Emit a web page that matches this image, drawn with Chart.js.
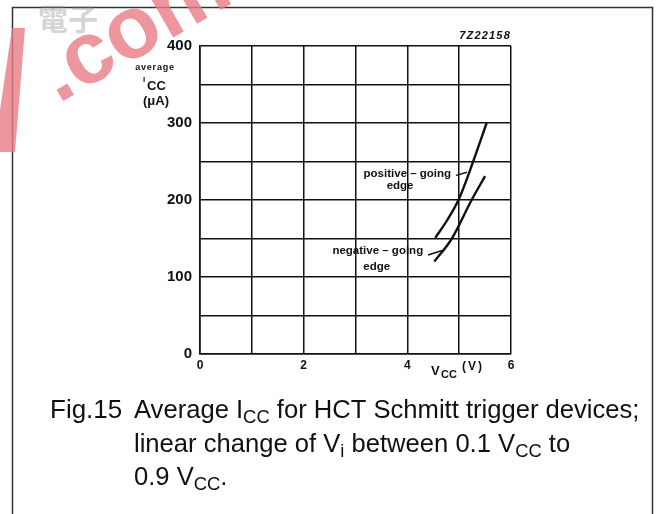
<!DOCTYPE html>
<html>
<head>
<meta charset="utf-8">
<script src="https://cdn.jsdelivr.net/npm/chart.js@4"></script>
<style>
  html, body { margin: 0; padding: 0; background: #fff; }
  canvas { display: block; }
</style>
</head>
<body>
<canvas id="chart" width="660" height="514"></canvas>
<script>
// average I_CC (uA) against V_CC (V)
const posVcc = [4.54, 4.78, 5.0, 5.27, 5.53];
const posIcc = [151, 175, 202, 250, 300];
const negVcc = [4.52, 4.86, 5.24, 5.50];
const negIcc = [120, 150, 200, 231];
const xTickLabels = [0, 2, 4, 6];
const yTickLabels = [0, 100, 200, 300, 400];

const INK = '#111';
const FONT = "'Liberation Sans', Arial, sans-serif";

function toPoints(xs, ys) {
    return xs.map((x, i) => ({ x: x, y: ys[i] }));
}

function spacing(ctx, px) {
    if ('letterSpacing' in ctx) ctx.letterSpacing = px + 'px';
}

// draws a run of text pieces, some of them as subscripts
function drawRich(ctx, parts, x, y, size) {
    let cx = x;
    parts.forEach(p => {
        const s = p.sub ? size * 0.72 : size;
        ctx.font = `${s}px ${FONT}`;
        ctx.fillText(p.t, cx, p.sub ? y + size * 0.2 : y);
        cx += ctx.measureText(p.t).width;
    });
}

const decor = {
    id: 'decor',
    beforeDraw(chart) {
        const ctx = chart.ctx;
        ctx.save();
        ctx.fillStyle = '#fff';
        ctx.fillRect(0, 0, chart.width, chart.height);
        ctx.restore();
    },
    afterDraw(chart) {
        const ctx = chart.ctx;
        const xs = chart.scales.x, ys = chart.scales.y;
        const px = v => xs.getPixelForValue(v);
        const py = v => ys.getPixelForValue(v);
        const area = chart.chartArea;

        ctx.save();

        // outer figure frame
        ctx.lineWidth = 1.5;
        ctx.strokeStyle = '#333';
        ctx.strokeRect(12.5, 7.5, 640, 530);

        ctx.fillStyle = INK;
        ctx.strokeStyle = INK;

        // figure code
        ctx.font = `italic bold 11px ${FONT}`;
        ctx.textAlign = 'right';
        ctx.textBaseline = 'alphabetic';
        spacing(ctx, 1.2);
        ctx.fillText('7Z22158', area.right, 39);
        spacing(ctx, 0);

        // y axis title
        ctx.textAlign = 'center';
        ctx.textBaseline = 'middle';
        ctx.font = `bold 9px ${FONT}`;
        spacing(ctx, 0.8);
        ctx.fillText('average', 155, 68);
        spacing(ctx, 0);
        ctx.textAlign = 'left';
        ctx.font = `bold 8px ${FONT}`;
        ctx.fillText('I', 143, 80);
        ctx.font = `bold 13px ${FONT}`;
        ctx.fillText('CC', 147, 86);
        ctx.textAlign = 'center';
        ctx.font = `bold 13px ${FONT}`;
        ctx.fillText('(\u03bcA)', 156, 101);

        // x axis title
        ctx.textAlign = 'left';
        ctx.font = `bold 13px ${FONT}`;
        ctx.fillText('V', 431, 371);
        ctx.font = `bold 11px ${FONT}`;
        ctx.fillText('CC', 441, 375);
        ctx.font = `bold 12px ${FONT}`;
        spacing(ctx, 2);
        ctx.fillText('(V)', 462, 367);
        spacing(ctx, 0);

        // curve labels with leaders
        ctx.textAlign = 'center';
        ctx.font = `bold 11.5px ${FONT}`;
        ctx.fillText('positive \u2013 going', px(4.0), py(234));
        ctx.fillText('edge', px(3.86), py(218));
        ctx.fillText('negative \u2013 going', px(3.43), py(134));
        ctx.fillText('edge', px(3.41), py(113));
        ctx.lineWidth = 1.5;
        ctx.beginPath();
        ctx.moveTo(px(4.94), py(232));
        ctx.lineTo(px(5.15), py(236));
        ctx.moveTo(px(4.40), py(128.5));
        ctx.lineTo(px(4.67), py(134.5));
        ctx.stroke();

        // caption
        ctx.textAlign = 'left';
        ctx.textBaseline = 'alphabetic';
        ctx.font = `26px ${FONT}`;
        ctx.fillText('Fig.15', 50, 418);
        drawRich(ctx, [{ t: 'Average I' }, { t: 'CC', sub: true }, { t: ' for HCT Schmitt trigger devices;' }], 134, 418, 25.6);
        drawRich(ctx, [{ t: 'linear change of V' }, { t: 'i', sub: true }, { t: ' between 0.1 V' }, { t: 'CC', sub: true }, { t: ' to' }], 134, 452, 25.6);
        drawRich(ctx, [{ t: '0.9 V' }, { t: 'CC', sub: true }, { t: '.' }], 134, 485, 25.6);

        // scanned watermark
        ctx.globalAlpha = 0.8;
        ctx.fillStyle = '#ea7c86';
        ctx.translate(58, 104);
        ctx.rotate(-Math.PI / 6);
        ctx.font = `bold 88px ${FONT}`;
        ctx.fillText('.com', 0, 0);
        ctx.setTransform(1, 0, 0, 1, 0, 0);
        ctx.beginPath();
        ctx.moveTo(12, 28);
        ctx.lineTo(25, 28);
        ctx.lineTo(15, 152);
        ctx.lineTo(0, 152);
        ctx.lineTo(0, 110);
        ctx.closePath();
        ctx.fill();
        ctx.globalAlpha = 0.35;
        ctx.fillStyle = '#888';
        ctx.font = `bold 30px 'Noto Sans CJK TC', sans-serif`;
        ctx.fillText('\u96fb\u5b50', 38, 30);
        ctx.restore();
    }
};

const curveStyle = {
    borderColor: INK,
    borderWidth: 2.4,
    pointRadius: 0,
    fill: false,
    cubicInterpolationMode: 'monotone'
};

new Chart(document.getElementById('chart'), {
    type: 'line',
    data: {
        datasets: [
            Object.assign({ label: 'positive-going edge', data: toPoints(posVcc, posIcc) }, curveStyle),
            Object.assign({ label: 'negative-going edge', data: toPoints(negVcc, negIcc) }, curveStyle)
        ]
    },
    options: {
        responsive: false,
        animation: false,
        layout: { padding: { top: 46, right: 149, left: 0, bottom: 0 } },
        plugins: {
            legend: { display: false },
            tooltip: { enabled: false }
        },
        scales: {
            x: {
                type: 'linear',
                min: 0,
                max: 6,
                afterFit: s => { s.height = 160; },
                grid: { color: INK, lineWidth: 1.5, drawTicks: false },
                border: { color: INK, width: 1.6 },
                ticks: {
                    stepSize: 1,
                    padding: 4,
                    maxRotation: 0,
                    color: INK,
                    font: { family: FONT, weight: 'bold', size: 12 },
                    callback: v => xTickLabels.includes(v) ? String(v) : ''
                }
            },
            y: {
                min: 0,
                max: 400,
                afterFit: s => { s.width = 200; },
                grid: { color: INK, lineWidth: 1.5, drawTicks: false },
                border: { color: INK, width: 1.6 },
                ticks: {
                    stepSize: 50,
                    padding: 8,
                    color: INK,
                    font: { family: FONT, weight: 'bold', size: 15 },
                    callback: v => yTickLabels.includes(v) ? String(v) : ''
                }
            }
        }
    },
    plugins: [decor]
});
</script>
</body>
</html>
